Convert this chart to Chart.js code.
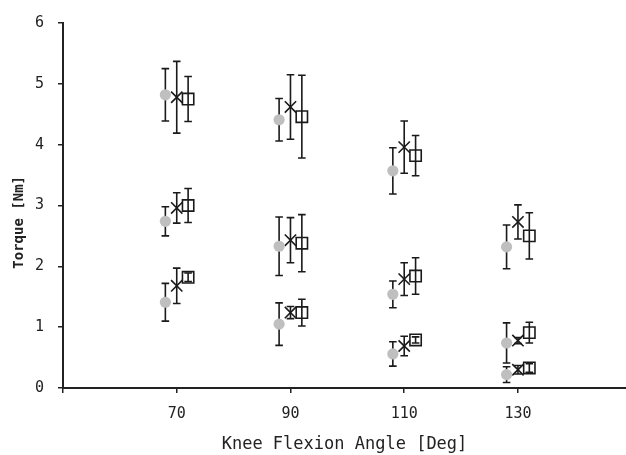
<!DOCTYPE html>
<html lang="en">
  <head>
    <meta charset="UTF-8" />
    <title>Torque vs knee flexion angle</title>
    <script src="https://cdn.jsdelivr.net/npm/chart.js"></script>
    <style>
      html, body { margin: 0; padding: 0; background: #fff; }
      #wrap { width: 626px; height: 455px; }
    </style>
  </head>
  <body>
    <div id="wrap"><canvas id="grafico"></canvas></div>

    <script>
      const angles = [70, 90, 110, 130];
      const xTicks = [50, 70, 90, 110, 130];

      // grey circles (drawn at angle - 2)
      const circleHigh = [4.82, 4.41, 3.57, 2.32];
      const circleHighSd = [0.43, 0.35, 0.38, 0.36];
      const circleMid = [2.74, 2.33, 1.54, 0.74];
      const circleMidSd = [0.24, 0.48, 0.22, 0.33];
      const circleLow = [1.41, 1.05, 0.56, 0.22];
      const circleLowSd = [0.31, 0.35, 0.2, 0.13];

      // crosses (drawn at angle)
      const crossHigh = [4.78, 4.62, 3.96, 2.73];
      const crossHighSd = [0.59, 0.53, 0.43, 0.28];
      const crossMid = [2.96, 2.43, 1.79, 0.78];
      const crossMidSd = [0.25, 0.37, 0.27, 0.05];
      const crossLow = [1.68, 1.24, 0.69, 0.3];
      const crossLowSd = [0.29, 0.1, 0.16, 0.07];

      // open squares (drawn at angle + 2)
      const squareHigh = [4.75, 4.46, 3.82, 2.5];
      const squareHighSd = [0.37, 0.68, 0.33, 0.38];
      const squareMid = [3.0, 2.38, 1.84, 0.91];
      const squareMidSd = [0.28, 0.47, 0.3, 0.17];
      const squareLow = [1.82, 1.24, 0.79, 0.33];
      const squareLowSd = [0.07, 0.22, 0.05, 0.07];

      function montarPontos(offset, niveis) {
        const pontos = [];
        niveis.forEach(([medias, sds]) => {
          medias.forEach((m, i) => {
            pontos.push({ x: angles[i] + offset, y: m, sd: sds[i] });
          });
        });
        return pontos;
      }

      // barras de erro desenhadas com as escalas do grafico
      const errorBars = {
        id: "errorBars",
        beforeDatasetsDraw(chart) {
          const ctx = chart.ctx;
          const yScale = chart.scales.y;
          ctx.save();
          ctx.strokeStyle = "#1a1a1a";
          ctx.lineWidth = 1.6;
          chart.data.datasets.forEach((ds, di) => {
            const meta = chart.getDatasetMeta(di);
            meta.data.forEach((pt, i) => {
              const d = ds.data[i];
              const x = pt.x;
              const yTop = yScale.getPixelForValue(d.y + d.sd);
              const yBot = yScale.getPixelForValue(d.y - d.sd);
              const cap = 3.8;
              ctx.beginPath();
              ctx.moveTo(x, yTop);
              ctx.lineTo(x, yBot);
              ctx.moveTo(x - cap, yTop);
              ctx.lineTo(x + cap, yTop);
              ctx.moveTo(x - cap, yBot);
              ctx.lineTo(x + cap, yBot);
              ctx.stroke();
            });
          });
          ctx.restore();
        },
      };

      const fonte = "'DejaVu Sans Mono', monospace";

      new Chart(document.getElementById("grafico"), {
        type: "scatter",
        data: {
          datasets: [
            {
              label: "circle",
              data: montarPontos(-2, [
                [circleHigh, circleHighSd],
                [circleMid, circleMidSd],
                [circleLow, circleLowSd],
              ]),
              pointStyle: "circle",
              pointRadius: 5.6,
              backgroundColor: "#bfbfbf",
              borderColor: "#bfbfbf",
              borderWidth: 0,
            },
            {
              label: "cross",
              data: montarPontos(0, [
                [crossHigh, crossHighSd],
                [crossMid, crossMidSd],
                [crossLow, crossLowSd],
              ]),
              pointStyle: "crossRot",
              pointRadius: 8,
              borderColor: "#1a1a1a",
              borderWidth: 1.6,
            },
            {
              label: "square",
              data: montarPontos(2, [
                [squareHigh, squareHighSd],
                [squareMid, squareMidSd],
                [squareLow, squareLowSd],
              ]),
              pointStyle: "rect",
              pointRadius: 8,
              backgroundColor: "rgba(255,255,255,0)",
              borderColor: "#1a1a1a",
              borderWidth: 1.6,
            },
          ],
        },
        options: {
          responsive: true,
          maintainAspectRatio: false,
          animation: false,
          layout: {
            autoPadding: false,
            padding: { top: 15, right: 0, bottom: 0, left: 0 },
          },
          plugins: {
            legend: { display: false },
            tooltip: { enabled: false },
          },
          scales: {
            x: {
              type: "linear",
              min: 50,
              max: 149,
              afterBuildTicks: (scale) => {
                scale.ticks = xTicks.map((v) => ({ value: v }));
              },
              afterFit: (scale) => {
                scale.height = 67;
              },
              ticks: {
                font: { family: fonte, size: 15 },
                color: "#222",
                padding: 12,
                maxRotation: 0,
                callback: (v) => (v === 50 ? "" : v),
              },
              grid: {
                drawOnChartArea: false,
                tickLength: 5,
                color: "#222",
                lineWidth: 1.5,
              },
              border: { color: "#222", width: 2 },
              title: {
                display: true,
                text: "Knee Flexion Angle [Deg]",
                font: { family: fonte, size: 17 },
                color: "#222",
                padding: { top: 10, bottom: 0 },
              },
            },
            y: {
              min: 0,
              max: 6,
              afterFit: (scale) => {
                scale.width = 63;
              },
              ticks: {
                stepSize: 1,
                font: { family: fonte, size: 15 },
                color: "#222",
                padding: 14,
              },
              grid: {
                drawOnChartArea: false,
                tickLength: 5,
                color: "#222",
                lineWidth: 1.5,
              },
              border: { color: "#222", width: 2 },
              title: {
                display: true,
                // trailing spaces push the label a little below the middle, as in the original
                text: "Torque [Nm]    ",
                font: { family: fonte, size: 14, weight: "bold" },
                color: "#222",
                padding: { top: 11, bottom: 0 },
              },
            },
          },
        },
        plugins: [errorBars],
      });
    </script>
  </body>
</html>
